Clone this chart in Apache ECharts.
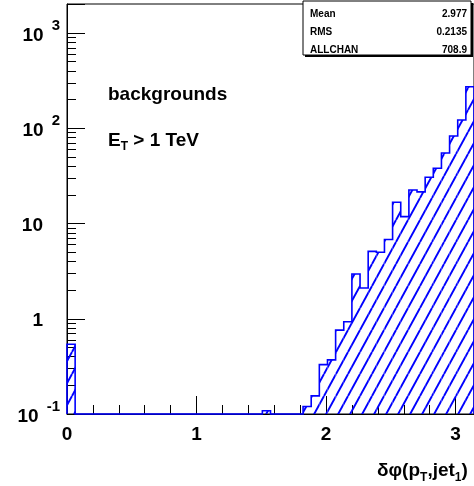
<!DOCTYPE html>
<html>
<head>
<meta charset="utf-8">
<script src="https://cdn.jsdelivr.net/npm/echarts@6/dist/echarts.min.js"></script>
<style>
html, body { margin: 0; padding: 0; background: #fff; }
#chart { width: 474px; height: 486px; }
</style>
</head>
<body>
<div id="chart"></div>
<script>
// delta phi (missing pT, leading jet), backgrounds, 50 bins over [0, pi]
var nBins = 50;
var xMin = 0;
var xMax = Math.PI;
var binValues = [
    0.54, 0, 0, 0, 0, 0, 0, 0, 0, 0,
    0, 0, 0, 0, 0, 0, 0, 0, 0, 0,
    0, 0, 0, 0, 0.108, 0, 0, 0, 0, 0.12,
    0.155, 0.33, 0.37, 0.76, 0.93, 2.95, 2.1, 5.1, 5.0, 6.8,
    16.7, 11.8, 22.5, 21.5, 30.6, 38, 55, 83, 122, 273
];
var yMin = 0.1;
var yMax = 2018;
var statsNames = ['Mean', 'RMS', 'ALLCHAN'];
var statsValues = ['2.977', '0.2135', '708.9'];

var FONT = 'Liberation Sans, Arial, sans-serif';
var BLUE = '#0000ff';
var binWidth = (xMax - xMin) / nBins;

// bins that have content -> [left edge, right edge, value]
var barData = [];
binValues.forEach(function (v, i) {
    if (v > 0) {
        barData.push([xMin + i * binWidth, xMin + (i + 1) * binWidth, v]);
    }
});

// diagonal hatch (like ROOT fill style 3004)
function makeHatch() {
    var w = 12, h = 22;
    var c = document.createElement('canvas');
    c.width = w;
    c.height = h;
    var ctx = c.getContext('2d');
    ctx.strokeStyle = BLUE;
    ctx.lineWidth = 1.9;
    for (var k = -1; k <= 1; k++) {
        ctx.beginPath();
        ctx.moveTo(k * w, h);
        ctx.lineTo(k * w + w, 0);
        ctx.stroke();
    }
    return c;
}
var hatch = { image: makeHatch(), repeat: 'repeat' };

var chart = echarts.init(document.getElementById('chart'));

var option = {
    animation: false,
    backgroundColor: '#fff',
    textStyle: { fontFamily: FONT },
    grid: {
        left: 67,
        top: 4,
        right: 0,
        bottom: 72,
        show: true,
        borderColor: '#000',
        borderWidth: 1,
        backgroundColor: 'transparent'
    },
    xAxis: {
        type: 'value',
        min: xMin,
        max: xMax,
        interval: 1,
        axisLine: { show: true, lineStyle: { color: '#000', width: 1 } },
        axisTick: { show: true, inside: true, length: 18, lineStyle: { color: '#000', width: 1 } },
        minorTick: { show: true, splitNumber: 5, length: 9, lineStyle: { color: '#000', width: 1 } },
        splitLine: { show: false },
        axisLabel: {
            margin: 11,
            color: '#000',
            fontSize: 19,
            fontWeight: 'bold',
            fontFamily: FONT,
            showMaxLabel: false,
            formatter: function (v) {
                return Math.abs(v - Math.round(v)) < 1e-9 ? String(Math.round(v)) : '';
            }
        }
    },
    yAxis: {
        type: 'log',
        logBase: 10,
        min: yMin,
        max: yMax,
        axisLine: { show: true, lineStyle: { color: '#000', width: 1 } },
        axisTick: { show: true, inside: true, length: 18, lineStyle: { color: '#000', width: 1 } },
        minorTick: { show: true, splitNumber: 9, length: 9, lineStyle: { color: '#000', width: 1 } },
        splitLine: { show: false },
        axisLabel: {
            margin: 7,
            color: '#000',
            fontFamily: FONT,
            formatter: function (v) {
                var e = Math.round(Math.log10(v));
                if (Math.abs(v - Math.pow(10, e)) > 1e-6 * Math.pow(10, e)) return '';
                if (e === 0) return '{b|1}{p|}';
                if (e === 1) return '{b|10}{p|}';
                return '{b|10}{e|' + e + '}';
            },
            rich: {
                b: { fontSize: 19, fontWeight: 'bold', padding: [0, 0, 3, 0], verticalAlign: 'bottom', fontFamily: FONT },
                e: { fontSize: 15, fontWeight: 'bold', lineHeight: 30, padding: [0, 0, 0, 8], verticalAlign: 'top', fontFamily: FONT },
                p: { width: 17, lineHeight: 30, verticalAlign: 'top' }
            }
        }
    },
    series: [
        {
            type: 'custom',
            name: 'fill',
            data: barData,
            encode: { x: [0, 1], y: 2 },
            renderItem: function (params, api) {
                var p0 = api.coord([api.value(0), api.value(2)]);
                var p1 = api.coord([api.value(1), yMin]);
                return {
                    type: 'rect',
                    shape: { x: p0[0], y: p0[1], width: p1[0] - p0[0], height: p1[1] - p0[1] },
                    style: { fill: hatch }
                };
            }
        },
        {
            type: 'custom',
            name: 'outline',
            data: [[xMin, yMin]],
            encode: { x: 0, y: 1 },
            z: 3,
            renderItem: function (params, api) {
                var pts = [api.coord([xMin, yMin])];
                binValues.forEach(function (v, i) {
                    var y = v > 0 ? v : yMin;
                    pts.push(api.coord([xMin + i * binWidth, y]));
                    pts.push(api.coord([xMin + (i + 1) * binWidth, y]));
                });
                pts.push(api.coord([xMax, yMin]));
                return {
                    type: 'polyline',
                    shape: { points: pts },
                    style: { fill: null, stroke: BLUE, lineWidth: 1.6 }
                };
            }
        }
    ],
    graphic: [
        {
            type: 'text', x: 108, y: 95, z: 10,
            style: { text: 'backgrounds', font: 'bold 19px ' + FONT, fill: '#000', verticalAlign: 'middle' }
        },
        {
            type: 'text', x: 108, y: 142, z: 10,
            style: {
                text: '{a|E}{s|T}{a| > 1 TeV}',
                verticalAlign: 'middle',
                rich: {
                    a: { fontSize: 19, fontWeight: 'bold', fontFamily: FONT, fill: '#000', lineHeight: 22, verticalAlign: 'top' },
                    s: { fontSize: 12, fontWeight: 'bold', fontFamily: FONT, fill: '#000', lineHeight: 12, padding: [10, 0, 0, 0], verticalAlign: 'top' }
                }
            }
        },
        {
            type: 'text', x: 377, y: 472, z: 10,
            style: {
                text: '{a|δφ(p}{s|T}{a|,jet}{s|1}{a|)}',
                verticalAlign: 'middle',
                rich: {
                    a: { fontSize: 19, fontWeight: 'bold', fontFamily: FONT, fill: '#000', lineHeight: 22, verticalAlign: 'top' },
                    s: { fontSize: 12, fontWeight: 'bold', fontFamily: FONT, fill: '#000', lineHeight: 12, padding: [11, 0, 0, 0], verticalAlign: 'top' }
                }
            }
        },
        // stats box with shadow
        {
            type: 'rect', z: 10,
            shape: { x: 305, y: 3, width: 168, height: 54 },
            style: { fill: '#000' }
        },
        {
            type: 'rect', z: 11,
            shape: { x: 303, y: 1, width: 168, height: 54 },
            style: { fill: '#fff', stroke: '#000', lineWidth: 1 }
        }
    ]
};

statsNames.forEach(function (name, i) {
    option.graphic.push({
        type: 'text', x: 310, y: 14 + i * 18, z: 12,
        style: { text: name, font: 'bold 10px ' + FONT, fill: '#000', verticalAlign: 'middle' }
    });
    option.graphic.push({
        type: 'text', x: 467, y: 14 + i * 18, z: 12,
        style: { text: statsValues[i], font: 'bold 10px ' + FONT, fill: '#000', align: 'right', verticalAlign: 'middle' }
    });
});

chart.setOption(option);
</script>
</body>
</html>
